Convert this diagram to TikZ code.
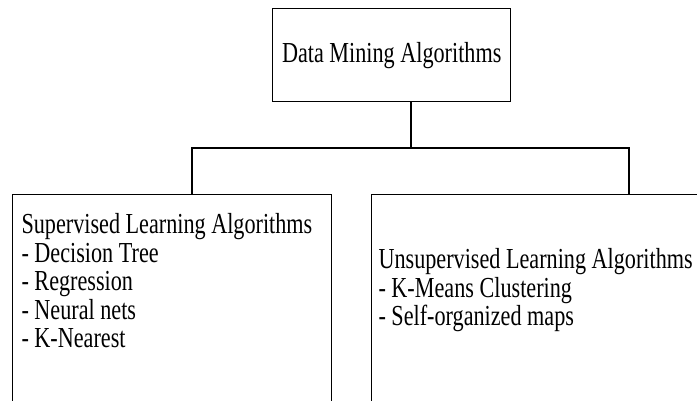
\documentclass[tikz,border=0pt]{standalone}
\usepackage{fontspec}
\setmainfont{Liberation Serif}
\usetikzlibrary{positioning}

\begin{document}
\begin{tikzpicture}[x=1pt,y=-1pt,line width=1.4pt,
  box/.style={draw,inner sep=0pt,anchor=north west},
  txt/.style={font=\fontsize{29}{28.5}\selectfont,xscale=0.765,transform shape,align=left,inner sep=0pt}]
\useasboundingbox (0,0) rectangle (697,400);
\clip (0,0) rectangle (697,400);
\node[box,minimum width=238pt,minimum height=93pt] (dma) at (272,8) {};
\node[box,minimum width=319pt,minimum height=230pt] (sup) at (12,194) {};
\node[box,minimum width=350pt,minimum height=230pt] (uns) at (371,194) {};
\node[txt] (dmatxt) at (dma.center) {Data Mining Algorithms};
\node[txt,anchor=north west] (suptxt) at (21,213) {Supervised Learning Algorithms\\- Decision Tree\\- Regression\\- Neural nets\\- K-Nearest};
\node[txt,anchor=north west] (unstxt) at (378,248) {Unsupervised Learning Algorithms\\- K-Means Clustering\\- Self-organized maps};
% tree connector
\coordinate (jc) at (411,148);
\coordinate (jl) at (192,148);
\coordinate (jr) at (629,148);
\draw (dma.south -| jc) -- (jc);
\draw (jl |- sup.north) -- (jl) -- (jr) -- (jr |- uns.north);
\end{tikzpicture}
\end{document}
